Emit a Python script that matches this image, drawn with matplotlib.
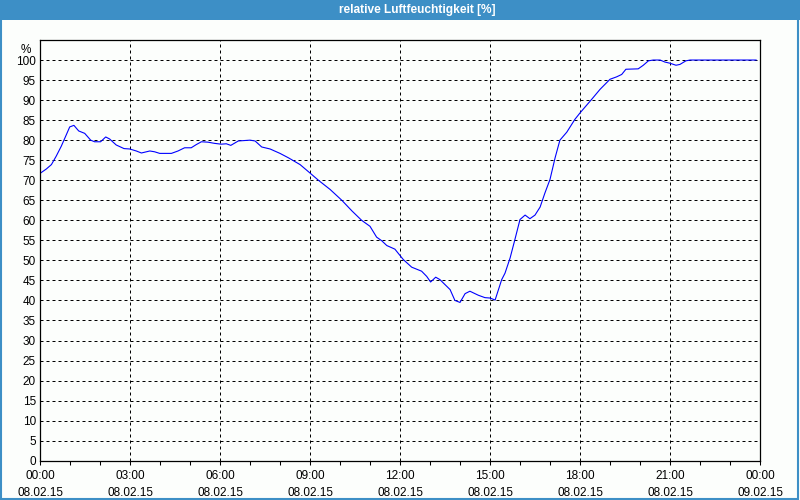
import matplotlib
matplotlib.use("Agg")
import matplotlib.pyplot as plt
from matplotlib.patches import Rectangle

# Stunden seit 08.02.15 00:00 und relative Feuchte in %
stunden = [0, 0.21, 0.38, 0.54, 0.71, 0.88, 0.99, 1.13, 1.29, 1.49,
           1.69, 1.82, 2.02, 2.19, 2.32, 2.54, 2.8, 2.99, 3.21, 3.38,
           3.66, 3.82, 3.99, 4.38, 4.6, 4.82, 5.04, 5.21, 5.38, 5.6,
           5.82, 6.04, 6.21, 6.36, 6.61, 7.0, 7.17, 7.39, 7.67, 8.0,
           8.28, 8.67, 9.0, 9.28, 9.67, 10.06, 10.39, 10.72, 11.0, 11.22,
           11.39, 11.56, 11.83, 12.11, 12.39, 12.72, 12.89, 13.02, 13.19, 13.33,
           13.67, 13.83, 14.0, 14.17, 14.33, 14.61, 14.83, 15.0, 15.17, 15.39,
           15.5, 15.67, 15.83, 16.0, 16.17, 16.33, 16.5, 16.67, 16.83, 17.0,
           17.17, 17.33, 17.56, 17.83, 18.0, 18.39, 18.67, 19.0, 19.22, 19.39,
           19.53, 19.94, 20.11, 20.28, 20.44, 20.67, 20.83, 21.0, 21.2, 21.33,
           21.53, 21.67, 23.87]
feuchte = [71.7, 72.8, 73.9, 76.0, 78.5, 81.4, 83.3, 83.7, 82.3, 81.7,
           80.0, 79.6, 79.6, 80.8, 80.3, 78.8, 77.9, 77.8, 77.3, 76.8,
           77.3, 77.1, 76.7, 76.7, 77.3, 78.1, 78.1, 78.9, 79.6, 79.5,
           79.2, 79.0, 79.1, 78.7, 79.8, 80.0, 79.8, 78.3, 77.8, 76.7,
           75.6, 73.9, 71.8, 70.0, 67.7, 65.0, 62.4, 60.0, 58.5, 55.8,
           54.9, 53.7, 52.8, 50.2, 48.3, 47.3, 46.0, 44.6, 45.8, 45.2,
           42.7, 40.0, 39.5, 41.7, 42.3, 41.3, 40.7, 40.6, 40.1, 45.2,
           46.8, 50.6, 55.2, 60.2, 61.3, 60.4, 61.3, 63.3, 66.8, 70.2,
           75.6, 80.0, 82.0, 85.2, 86.8, 90.2, 92.7, 95.2, 95.8, 96.4,
           97.7, 97.8, 98.7, 99.8, 100.0, 100.0, 99.5, 99.2, 98.7, 98.9,
           99.8, 100.0, 100.0]

x_ticks = [0, 3, 6, 9, 12, 15, 18, 21, 24]
x_labels = ["00:00\n08.02.15", "03:00\n08.02.15", "06:00\n08.02.15",
            "09:00\n08.02.15", "12:00\n08.02.15", "15:00\n08.02.15",
            "18:00\n08.02.15", "21:00\n08.02.15", "00:00\n09.02.15"]
y_ticks = list(range(0, 101, 5))

titel = "relative Luftfeuchtigkeit [%]"
blau = "#3d8fc6"

plt.rcParams['font.family'] = ['Liberation Sans', 'DejaVu Sans']

fig = plt.figure(figsize=(8, 5), dpi=100, facecolor="#fcfefc")

# Titelleiste und Rahmen
fig.patches.append(Rectangle((0, 0.96), 1, 0.04, transform=fig.transFigure,
                             facecolor=blau, edgecolor="none", zorder=0))
fig.patches.append(Rectangle((0.001, 0.002), 0.997, 0.996, transform=fig.transFigure,
                             facecolor="none", edgecolor=blau, linewidth=1.5, zorder=1))
fig.text(0.521, 0.979, titel, color="white", fontsize=8.6, fontweight="bold",
         ha="center", va="center")

ax = fig.add_axes([0.05, 0.0786, 0.90, 0.8414])
ax.set_facecolor("#fcfefc")

ax.plot(stunden, feuchte, color="#0000ff", linewidth=0.8)

ax.set_xlim(0, 24)
ax.set_ylim(0, 105)

ax.set_xticks(x_ticks)
ax.set_xticklabels(x_labels, fontsize=8.5, linespacing=1.5)
ax.set_xticks(range(0, 25), minor=True)
ax.set_yticks(y_ticks)
ax.set_yticklabels([str(v) for v in y_ticks], fontsize=8.5)

ax.tick_params(axis="x", which="both", direction="out", length=3, width=0.75,
               pad=4, color="black")
ax.tick_params(axis="y", length=0, pad=3)

ax.grid(True, which="major", color="black", linestyle=(0, (3, 3)), linewidth=0.72)

for s in ax.spines.values():
    s.set_linewidth(0.9)
    s.set_color("black")

ax.text(-0.012, 104, "%", transform=ax.get_yaxis_transform(), fontsize=8.5,
        ha="right", va="top")

fig.savefig("out.png", dpi=100, facecolor=fig.get_facecolor())
